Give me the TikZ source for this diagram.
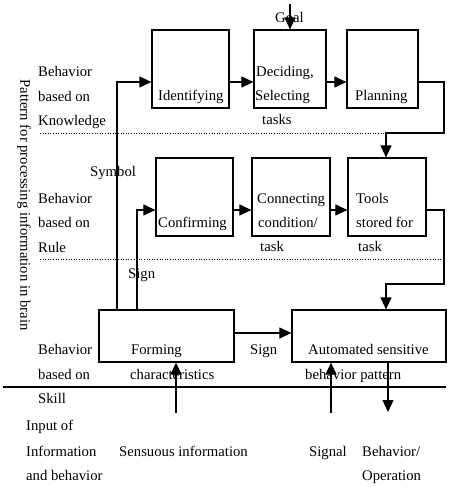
\documentclass[tikz,border=0pt]{standalone}
\usepackage{fontspec}
\setmainfont{Liberation Serif}
\usetikzlibrary{arrows.meta}
\begin{document}
\begin{tikzpicture}[x=1pt,y=-1pt,
  box/.style={draw, line width=1.2pt, inner sep=0pt},
  txt/.style={anchor=base west, inner sep=0pt, font=\fontsize{14.7}{18}\selectfont},
  conn/.style={line width=1.1pt, -{Triangle[length=12pt,width=11pt]}},
  sep/.style={line width=0.6pt, dotted},
  rule/.style={line width=1.1pt}]
\useasboundingbox (0,0) rectangle (450,487);
% boxes
\node[box, minimum width=77pt, minimum height=78pt] (ident) at (190.5,69) {};
\node[box, minimum width=72pt, minimum height=78pt] (decid) at (290,69) {};
\node[box, minimum width=71pt, minimum height=78pt] (plan) at (382.5,69) {};
\node[box, minimum width=77pt, minimum height=78pt] (confirm) at (194.5,197) {};
\node[box, minimum width=78pt, minimum height=78pt] (connect) at (291,197) {};
\node[box, minimum width=78pt, minimum height=78pt] (tools) at (387,197) {};
\node[box, minimum width=135pt, minimum height=52pt] (form) at (166.5,336) {};
\node[box, minimum width=154pt, minimum height=52pt] (auto) at (369,336) {};
% separator lines
\coordinate (d1a) at (40,133); \coordinate (d1b) at (445,133);
\coordinate (d2a) at (40,259); \coordinate (d2b) at (445,259);
\coordinate (s1a) at (3,387); \coordinate (s1b) at (446,387);
\draw[sep] (d1a) -- (d1b);
\draw[sep] (d2a) -- (d2b);
\draw[rule] (s1a) -- (s1b);
% texts in boxes
\node[txt] (tIdent) at (158,100) {Identifying};
\node[txt] (tDec1) at (256,76) {Deciding,};
\node[txt] (tDec2) at (255,100) {Selecting};
\node[txt] (tDec3) at (262,124) {tasks};
\node[txt] (tPlan) at (355,100) {Planning};
\node[txt] (tConf) at (158,227) {Confirming};
\node[txt] (tCon1) at (257,203) {Connecting};
\node[txt] (tCon2) at (258,227) {condition/};
\node[txt] (tCon3) at (260,251) {task};
\node[txt] (tTool1) at (356,203) {Tools};
\node[txt] (tTool2) at (356,227) {stored for};
\node[txt] (tTool3) at (358,251) {task};
\node[txt] (tForm1) at (131,354) {Forming};
\node[txt] (tForm2) at (130,379) {characteristics};
\node[txt] (tAuto1) at (308,354) {Automated sensitive};
\node[txt] (tAuto2) at (305,379) {behavior pattern};
% left labels
\node[txt] (k1) at (38,77) {Behavior};
\node[txt] (k2) at (38,101) {based on};
\node[txt] (k3) at (38,125) {Knowledge};
\node[txt] (r1t) at (38,203) {Behavior};
\node[txt] (r2t) at (38,227) {based on};
\node[txt] (r3t) at (38,252) {Rule};
\node[txt] (s1t) at (38,354) {Behavior};
\node[txt] (s2t) at (38,379) {based on};
\node[txt] (s3t) at (38,403) {Skill};
\node[txt] (i1) at (26,430) {Input of};
\node[txt] (i2) at (26,456) {Information};
\node[txt] (i3) at (26,480) {and behavior};
% other labels
\node[txt] (tSymbol) at (90,176) {Symbol};
\node[txt] (tSignA) at (128,278) {Sign};
\node[txt] (tSignB) at (250,354) {Sign};
\node[txt] (tSens) at (119,456) {Sensuous information};
\node[txt] (tSignal) at (309,456) {Signal};
\node[txt] (tOut1) at (362,456) {Behavior/};
\node[txt] (tOut2) at (362,480) {Operation};
\node[txt] (tGoal) at (275,23) {Goal};
\node[font=\fontsize{14.7}{18}\selectfont, rotate=-90, inner sep=0pt] (tPattern) at (24,205) {Pattern for processing information in brain};
% helper coordinates
\coordinate (y82) at (0,82);
\coordinate (y210) at (0,210);
\coordinate (y333) at (0,333);
\coordinate (c1) at (117,82);
\coordinate (c2) at (137,210);
\coordinate (pr) at (444,133);
\coordinate (pd) at (386,133);
\coordinate (tr) at (444,284);
\coordinate (td) at (386,284);
\coordinate (goal0) at (290,4);
\coordinate (sens) at (176,413);
\coordinate (sig) at (331,413);
\coordinate (outp) at (388,412);
% connectors
\draw[conn] (goal0) -- (decid.north -| goal0);
\draw[conn] (ident.east |- y82) -- (decid.west |- y82);
\draw[conn] (decid.east |- y82) -- (plan.west |- y82);
\draw[conn] (form.north -| c1) -- (c1) -- (ident.west |- c1);
\draw[conn] (form.north -| c2) -- (c2) -- (confirm.west |- c2);
\draw[conn] (plan.east |- y82) -| (pr) -- (pd) -- (tools.north -| pd);
\draw[conn] (confirm.east |- y210) -- (connect.west |- y210);
\draw[conn] (connect.east |- y210) -- (tools.west |- y210);
\draw[conn] (tools.east |- y210) -| (tr) -- (td) -- (auto.north -| td);
\draw[conn] (form.east |- y333) -- (auto.west |- y333);
\draw[conn] (sens) -- (form.south -| sens);
\draw[conn] (sig) -- (auto.south -| sig);
\draw[conn] (auto.south -| outp) -- (outp);
\end{tikzpicture}
\end{document}
